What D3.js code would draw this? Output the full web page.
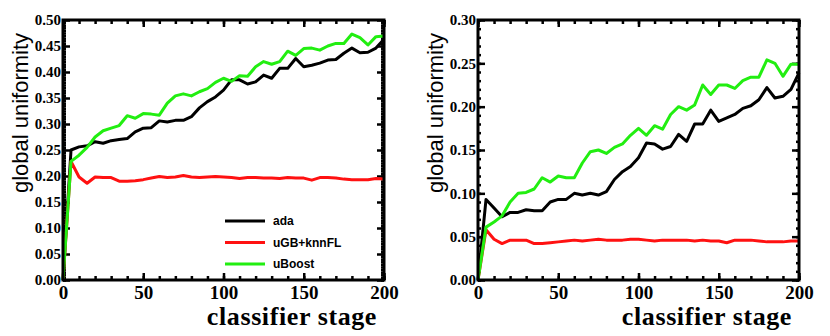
<!DOCTYPE html>
<html>
<head>
<meta charset="utf-8">
<script src="https://cdn.jsdelivr.net/npm/d3@7"></script>
<style>
  body { margin: 0; background: #fff; }
  svg { display: block; }
</style>
</head>
<body>
<svg id="chart" width="830" height="336"></svg>
<script>
// Classifier stages (every 5 from 0 to 200)
const stages = d3.range(0, 201, 5);

// Left panel
const leftAda = [0, 0.25, 0.256, 0.258, 0.266, 0.263, 0.268, 0.27, 0.272, 0.285, 0.292,
  0.293, 0.306, 0.304, 0.307, 0.307, 0.314, 0.331, 0.343, 0.352, 0.365,
  0.385, 0.385, 0.377, 0.381, 0.394, 0.388, 0.407, 0.407, 0.426, 0.41,
  0.413, 0.417, 0.423, 0.424, 0.436, 0.446, 0.437, 0.438, 0.446, 0.463];
const leftUgb = [0, 0.228, 0.198, 0.186, 0.198, 0.197, 0.197, 0.19, 0.19, 0.191, 0.193,
  0.196, 0.199, 0.197, 0.198, 0.201, 0.198, 0.197, 0.198, 0.199, 0.198,
  0.197, 0.195, 0.197, 0.197, 0.196, 0.196, 0.195, 0.197, 0.196, 0.196,
  0.192, 0.197, 0.197, 0.196, 0.194, 0.193, 0.193, 0.193, 0.195, 0.194];
const leftUboost = [0, 0.228, 0.24, 0.255, 0.275, 0.287, 0.292, 0.297, 0.316, 0.311, 0.32,
  0.319, 0.317, 0.34, 0.354, 0.358, 0.354, 0.362, 0.368, 0.38, 0.388,
  0.382, 0.393, 0.392, 0.41, 0.42, 0.415, 0.42, 0.44, 0.432, 0.445,
  0.446, 0.442, 0.45, 0.455, 0.455, 0.473, 0.466, 0.452, 0.468, 0.469];

// Right panel
const rightAda = [0, 0.093, 0.083, 0.073, 0.078, 0.078, 0.081, 0.08, 0.08, 0.09, 0.093,
  0.093, 0.1, 0.098, 0.1, 0.098, 0.102, 0.116, 0.125, 0.131, 0.141,
  0.158, 0.157, 0.151, 0.154, 0.168, 0.16, 0.18, 0.18, 0.196, 0.183,
  0.187, 0.191, 0.198, 0.201, 0.208, 0.222, 0.21, 0.212, 0.22, 0.239];
const rightUgb = [0, 0.058, 0.047, 0.042, 0.046, 0.046, 0.046, 0.042, 0.042, 0.043, 0.044,
  0.045, 0.046, 0.045, 0.046, 0.047, 0.046, 0.046, 0.046, 0.047, 0.047,
  0.046, 0.045, 0.046, 0.046, 0.046, 0.046, 0.045, 0.046, 0.045, 0.045,
  0.043, 0.046, 0.046, 0.046, 0.045, 0.044, 0.044, 0.044, 0.045, 0.045];
const rightUboost = [0, 0.061, 0.067, 0.074, 0.09, 0.1, 0.101, 0.105, 0.118, 0.113, 0.12,
  0.118, 0.118, 0.135, 0.148, 0.15, 0.146, 0.153, 0.157, 0.167, 0.175,
  0.167, 0.178, 0.174, 0.191, 0.2, 0.196, 0.202, 0.225, 0.214, 0.225,
  0.225, 0.221, 0.23, 0.234, 0.234, 0.254, 0.25, 0.235, 0.249, 0.249];

const seriesNames = ["ada", "uGB+knnFL", "uBoost"];
const seriesColors = ["#000000", "#ff1111", "#22ee11"];

// Ticks
const xTicks = [0, 50, 100, 150, 200];
const xMinor = d3.range(0, 201, 10);
const yTicksLeft = d3.range(0, 0.501, 0.05);
const yTicksRight = d3.range(0, 0.301, 0.05);

const serif = "'Liberation Serif', 'Times New Roman', serif";
const sans = "'Liberation Sans', Arial, sans-serif";

const svg = d3.select("#chart");

function drawPanel(cfg) {
  const { left, right, top, bottom, yMax, yTicks, yMinorStep, series, legend } = cfg;

  const xScale = d3.scaleLinear().domain([0, 200]).range([left, right]);
  const yScale = d3.scaleLinear().domain([0, yMax]).range([bottom, top]);
  const g = svg.append("g");

  // Minor ticks
  const yMinor = d3.range(0, yMax + 1e-9, yMinorStep);
  g.append("g")
    .attr("transform", `translate(${left},0)`)
    .call(d3.axisLeft(yScale).tickValues(yMinor).tickSize(-3).tickFormat(""));
  g.append("g")
    .attr("transform", `translate(${right},0)`)
    .call(d3.axisRight(yScale).tickValues(yMinor).tickSize(-3).tickFormat(""));
  g.append("g")
    .attr("transform", `translate(0,${bottom})`)
    .call(d3.axisBottom(xScale).tickValues(xMinor).tickSize(-4).tickFormat(""));
  g.append("g")
    .attr("transform", `translate(0,${top})`)
    .call(d3.axisTop(xScale).tickValues(xMinor).tickSize(-4).tickFormat(""));

  // Major ticks with labels
  const yAxisG = g.append("g")
    .attr("transform", `translate(${left},0)`)
    .call(d3.axisLeft(yScale).tickValues(yTicks).tickSize(-7).tickPadding(2).tickFormat(d3.format(".2f")));
  yAxisG.selectAll("text")
    .style("font-family", serif)
    .style("font-weight", "bold")
    .style("font-size", "15px");
  g.append("g")
    .attr("transform", `translate(${right},0)`)
    .call(d3.axisRight(yScale).tickValues(yTicks).tickSize(-7).tickFormat(""));
  const xAxisG = g.append("g")
    .attr("transform", `translate(0,${bottom})`)
    .call(d3.axisBottom(xScale).tickValues(xTicks).tickSize(-7).tickPadding(6).tickFormat(d3.format("d")));
  xAxisG.selectAll("text")
    .style("font-family", serif)
    .style("font-weight", "bold")
    .style("font-size", "19px");
  g.append("g")
    .attr("transform", `translate(0,${top})`)
    .call(d3.axisTop(xScale).tickValues(xTicks).tickSize(-7).tickFormat(""));

  g.selectAll(".domain").remove();
  g.selectAll(".tick line").attr("stroke", "#000").attr("stroke-width", 2.5);
  g.selectAll(".tick text").attr("fill", "#000");

  // Lines
  const line = d3.line()
    .x((d, i) => xScale(stages[i]))
    .y((d) => yScale(d));
  series.forEach((values, i) => {
    g.append("path")
      .datum(values)
      .attr("fill", "none")
      .attr("stroke", seriesColors[i])
      .attr("stroke-width", 3)
      .attr("stroke-linejoin", "round")
      .attr("d", line);
  });

  // Frame
  g.append("rect")
    .attr("x", left)
    .attr("y", top)
    .attr("width", right - left)
    .attr("height", bottom - top)
    .attr("fill", "none")
    .attr("stroke", "#000")
    .attr("stroke-width", 3);

  // Axis titles
  g.append("text")
    .attr("x", right - 7)
    .attr("y", 325)
    .attr("text-anchor", "end")
    .style("font-family", serif)
    .style("font-weight", "bold")
    .style("font-size", "26px")
    .style("letter-spacing", "0.6px")
    .text("classifier stage");
  g.append("text")
    .attr("transform", `translate(${left - 35},113) rotate(-90)`)
    .attr("text-anchor", "middle")
    .style("font-family", sans)
    .style("font-size", "22px")
    .text("global uniformity");

  // Legend
  if (legend) {
    const lg = g.append("g");
    seriesNames.forEach((name, i) => {
      const y = 221 + i * 21.5;
      lg.append("line")
        .attr("x1", 225).attr("x2", 265)
        .attr("y1", y).attr("y2", y)
        .attr("stroke", seriesColors[i])
        .attr("stroke-width", 3);
      lg.append("text")
        .attr("x", 273)
        .attr("y", y)
        .attr("dy", "0.35em")
        .style("font-family", sans)
        .style("font-weight", "bold")
        .style("font-size", "12px")
        .text(name);
    });
  }
}

drawPanel({
  left: 63, right: 384, top: 20, bottom: 280,
  yMax: 0.5, yTicks: yTicksLeft, yMinorStep: 0.005,
  series: [leftAda, leftUgb, leftUboost], legend: true
});

drawPanel({
  left: 478, right: 799, top: 20, bottom: 280,
  yMax: 0.3, yTicks: yTicksRight, yMinorStep: 0.01,
  series: [rightAda, rightUgb, rightUboost], legend: false
});
</script>
</body>
</html>
